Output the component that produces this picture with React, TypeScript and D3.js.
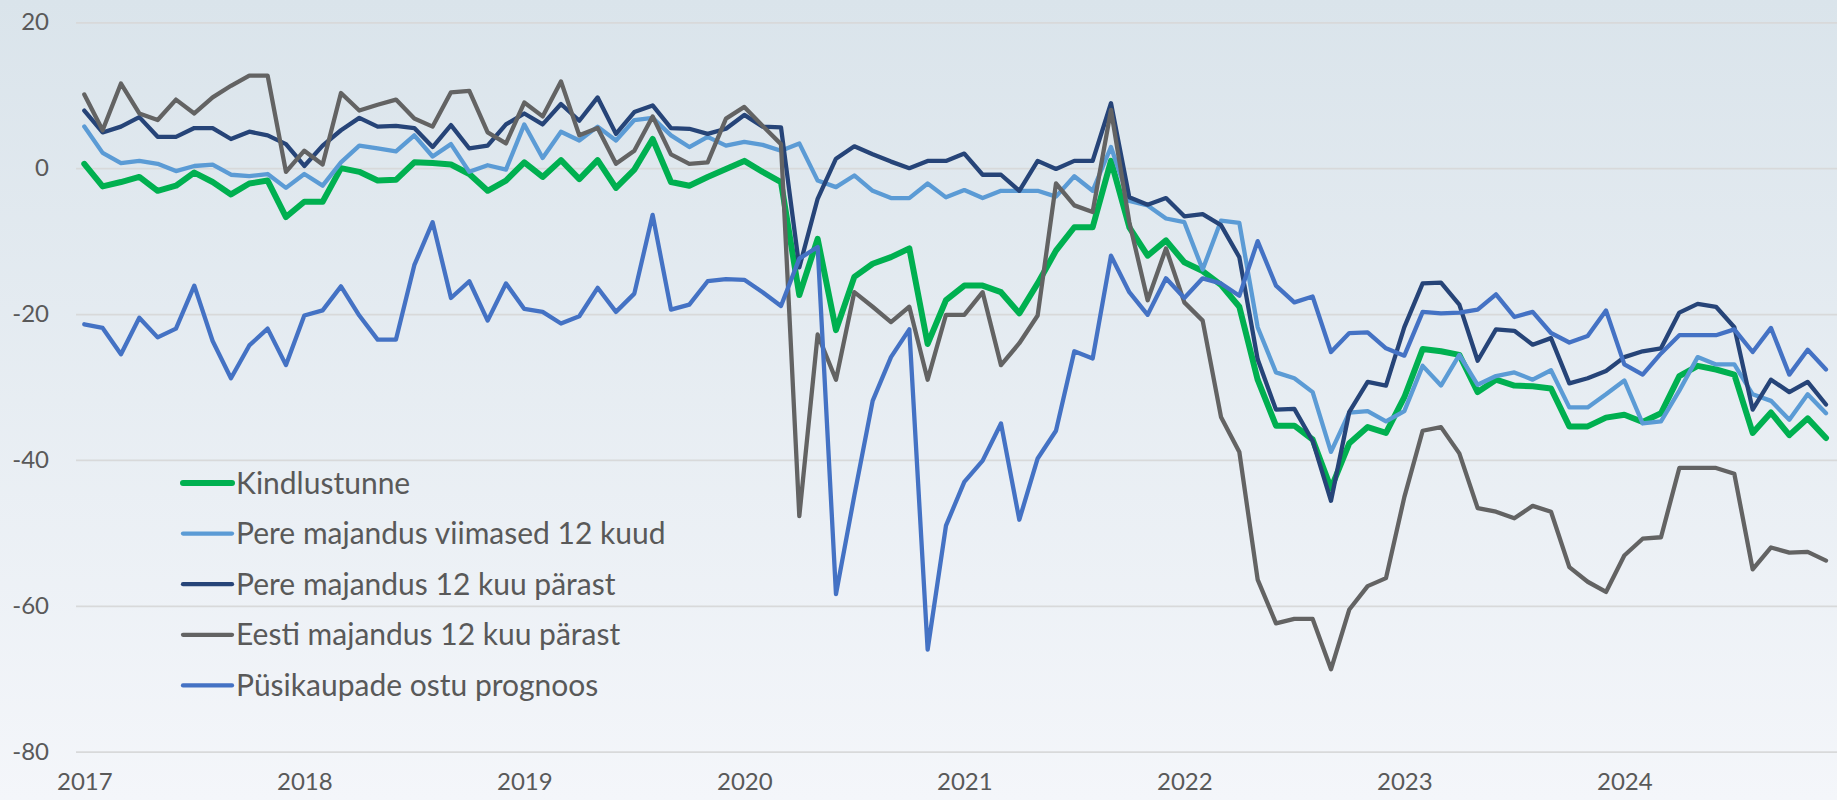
import React, { useEffect, useRef } from 'react';
import * as d3 from 'd3';

// monthly survey balances, Jan 2017 .. Dec 2024
const years = ['2017', '2018', '2019', '2020', '2021', '2022', '2023', '2024'];

const kindlustunne = [
  0.6, -2.5, -1.9, -1.2, -3.1, -2.4, -0.6, -1.9, -3.6, -2.1, -1.7, -6.7,
  -4.6, -4.6, 0.0, -0.5, -1.7, -1.6, 0.8, 0.7, 0.5, -0.8, -3.1, -1.7,
  0.8, -1.2, 1.1, -1.5, 1.1, -2.7, -0.2, 4.0, -1.9, -2.4, -1.2, -0.1,
  1.0, -0.5, -1.9, -17.4, -9.7, -22.2, -14.9, -13.1, -12.2, -11.0, -24.1, -18.1,
  -16.1, -16.1, -17.0, -19.9, -15.8, -11.3, -8.1, -8.1, 1.0, -8.1, -12.0, -9.9,
  -12.9, -14.1, -16.0, -19.0, -29.0, -35.3, -35.3, -37.2, -43.9, -37.7, -35.5, -36.3,
  -31.4, -24.8, -25.1, -25.6, -30.7, -29.0, -29.8, -29.9, -30.2, -35.4, -35.4, -34.2,
  -33.8, -34.8, -33.6, -28.5, -27.1, -27.6, -28.3, -36.3, -33.5, -36.6, -34.3, -37.0,
];

const pereViimased = [
  5.7, 2.1, 0.7, 1.0, 0.6, -0.4, 0.3, 0.5, -0.9, -1.1, -0.8, -2.7,
  -0.8, -2.4, 0.8, 3.1, 2.7, 2.3, 4.5, 1.6, 3.3, -0.5, 0.4, -0.2,
  6.0, 1.4, 5.0, 3.8, 5.7, 3.8, 6.6, 6.9, 4.5, 2.9, 4.3, 3.1,
  3.6, 3.2, 2.4, 3.4, -1.7, -2.6, -1.0, -3.1, -4.1, -4.1, -2.1, -4.0,
  -3.0, -4.1, -3.1, -3.1, -3.1, -3.9, -1.1, -3.1, 2.9, -4.5, -5.1, -6.9,
  -7.4, -13.9, -7.2, -7.5, -21.8, -28.0, -28.8, -30.7, -38.9, -33.5, -33.3, -34.7,
  -33.3, -27.1, -29.8, -25.6, -29.7, -28.5, -28.0, -29.0, -27.7, -32.8, -32.8, -31.0,
  -29.1, -35.0, -34.7, -30.5, -25.9, -26.9, -26.9, -31.0, -31.9, -34.5, -31.0, -33.6,
];

const pere12 = [
  7.9, 4.9, 5.7, 7.0, 4.3, 4.3, 5.5, 5.5, 4.0, 5.0, 4.5, 3.3,
  0.3, 3.1, 5.2, 6.9, 5.7, 5.8, 5.5, 2.9, 5.9, 2.7, 3.1, 6.0,
  7.5, 6.0, 8.8, 6.5, 9.7, 4.7, 7.7, 8.6, 5.5, 5.4, 4.7, 5.4,
  7.3, 5.7, 5.6, -13.6, -4.2, 1.3, 3.0, 1.9, 0.9, 0.0, 1.0, 1.0,
  2.0, -0.9, -0.9, -3.1, 1.0, -0.1, 1.0, 1.0, 8.9, -4.0, -5.0, -4.1,
  -6.6, -6.3, -7.8, -12.2, -26.2, -33.1, -33.0, -37.4, -45.6, -33.4, -29.3, -29.8,
  -21.8, -15.8, -15.7, -18.7, -26.4, -22.1, -22.3, -24.2, -23.3, -29.5, -28.8, -27.8,
  -25.9, -25.1, -24.7, -19.8, -18.6, -19.0, -21.8, -33.1, -29.0, -30.7, -29.3, -32.4,
];

const eesti12 = [
  10.1, 5.2, 11.6, 7.5, 6.6, 9.4, 7.5, 9.7, 11.3, 12.7, 12.7, -0.5,
  2.4, 0.5, 10.3, 7.9, 8.7, 9.4, 6.8, 5.7, 10.4, 10.6, 4.9, 3.4,
  9.0, 7.1, 11.9, 4.5, 5.5, 0.6, 2.4, 7.1, 1.9, 0.6, 0.8, 6.8,
  8.4, 5.8, 3.3, -47.7, -22.8, -29.0, -17.0, -19.0, -21.1, -19.0, -29.0, -20.1,
  -20.1, -17.0, -27.0, -24.0, -20.2, -2.1, -5.1, -6.0, 8.0, -7.4, -18.1, -11.0,
  -18.4, -20.9, -34.1, -38.9, -56.4, -62.4, -61.8, -61.8, -68.7, -60.5, -57.3, -56.2,
  -45.1, -36.0, -35.5, -39.1, -46.6, -47.1, -48.0, -46.3, -47.1, -54.7, -56.7, -58.1,
  -53.1, -50.8, -50.6, -41.1, -41.1, -41.1, -41.9, -55.0, -52.0, -52.7, -52.6, -53.8,
];

const pusikaubad = [
  -21.4, -21.9, -25.5, -20.5, -23.2, -22.0, -16.1, -23.7, -28.8, -24.3, -22.0, -27.0,
  -20.2, -19.5, -16.2, -20.2, -23.5, -23.5, -13.3, -7.4, -17.8, -15.5, -20.9, -15.8,
  -19.3, -19.7, -21.3, -20.3, -16.4, -19.7, -17.2, -6.4, -19.4, -18.7, -15.5, -15.2,
  -15.3, -17.0, -18.9, -12.4, -10.8, -58.4, -44.9, -31.9, -25.9, -22.1, -66.0, -49.0,
  -43.0, -40.1, -35.0, -48.2, -39.8, -36.0, -25.1, -26.1, -12.0, -17.0, -20.1, -15.1,
  -17.8, -15.1, -15.8, -17.5, -10.0, -16.1, -18.4, -17.6, -25.2, -22.6, -22.5, -24.7,
  -25.7, -19.7, -19.9, -19.8, -19.4, -17.3, -20.4, -19.7, -22.6, -23.9, -23.0, -19.5,
  -26.9, -28.3, -25.4, -22.9, -22.9, -22.9, -22.1, -25.2, -21.9, -28.3, -24.9, -27.6,
];

const seriesNames = [
  'Kindlustunne',
  'Pere majandus viimased 12 kuud',
  'Pere majandus 12 kuu pärast',
  'Eesti majandus 12 kuu pärast',
  'Püsikaupade ostu prognoos',
];
const seriesValues = [kindlustunne, pereViimased, pere12, eesti12, pusikaubad];
const colors = ['#00b050', '#5b9bd5', '#264478', '#636363', '#4472c4'];
const widths = [6, 4.3, 4.3, 4.3, 4.3];

const yTicks = [20, 0, -20, -40, -60, -80];

const W = 1837;
const H = 800;
const FONT = 'Lato, "Open Sans", sans-serif';

const drawChart = (node: SVGSVGElement) => {
  const svg = d3.select(node);
  svg.selectAll('*').remove();

  const defs = svg.append('defs');
  const grad = defs.append('linearGradient')
    .attr('id', 'bg')
    .attr('x1', 0).attr('y1', 0)
    .attr('x2', 0).attr('y2', 1);
  grad.append('stop').attr('offset', '0%').attr('stop-color', '#dae4eb');
  grad.append('stop').attr('offset', '100%').attr('stop-color', '#f4f6fa');

  svg.append('rect')
    .attr('width', W)
    .attr('height', H)
    .attr('fill', 'url(#bg)');

  const n = kindlustunne.length;
  const x = d3.scaleLinear().domain([0, n - 1]).range([84.3, 1826]);
  const y = d3.scaleLinear().domain([-80, 20]).range([751.7, 22.3]);

  // gridlines + y labels
  const yAxis = d3.axisLeft(y)
    .tickValues(yTicks)
    .tickSize(-(W - 76))
    .tickPadding(27)
    .tickFormat(d => String(d));
  const gy = svg.append('g')
    .attr('transform', 'translate(76,0)')
    .call(yAxis);
  gy.select('.domain').remove();
  gy.selectAll('line').attr('stroke', '#d8d9da').attr('stroke-width', 1.7);
  gy.selectAll('text')
    .attr('fill', '#595959')
    .style('font-family', FONT)
    .style('font-size', '24px');

  // x labels (January of each year)
  const xAxis = d3.axisBottom(x)
    .tickValues(years.map((_, i) => i * 12))
    .tickSize(0)
    .tickPadding(0)
    .tickFormat((d: any) => years[Math.round(+d / 12)]);
  const gx = svg.append('g')
    .attr('transform', 'translate(0,773)')
    .call(xAxis);
  gx.select('.domain').remove();
  gx.selectAll('text')
    .attr('fill', '#595959')
    .style('font-family', FONT)
    .style('font-size', '24px');

  const line = d3.line<number>()
    .x((d, i) => x(i))
    .y(d => y(d));

  seriesValues.forEach((vals, k) => {
    svg.append('path')
      .datum(vals)
      .attr('d', line)
      .attr('fill', 'none')
      .attr('stroke', colors[k])
      .attr('stroke-width', widths[k])
      .attr('stroke-linejoin', 'round')
      .attr('stroke-linecap', 'round');
  });

  // legend
  const legend = svg.append('g').attr('transform', 'translate(183,483)');
  seriesNames.forEach((name, k) => {
    const row = legend.append('g').attr('transform', `translate(0,${k * 50.6})`);
    row.append('line')
      .attr('x1', 0).attr('x2', 49)
      .attr('y1', 0).attr('y2', 0)
      .attr('stroke', colors[k])
      .attr('stroke-width', widths[k])
      .attr('stroke-linecap', 'round');
    row.append('text')
      .attr('x', 53)
      .attr('y', 0)
      .attr('dy', '0.35em')
      .attr('fill', '#595959')
      .style('font-family', FONT)
      .style('font-size', '30px')
      .text(name);
  });
};

const App = () => {
  const ref = useRef<SVGSVGElement>(null);

  useEffect(() => {
    if (ref.current) drawChart(ref.current);
  }, []);

  return (
    <svg
      ref={ref}
      width={W}
      height={H}
      style={{ position: 'absolute', left: 0, top: 0, display: 'block' }}
    />
  );
};

export default App;
